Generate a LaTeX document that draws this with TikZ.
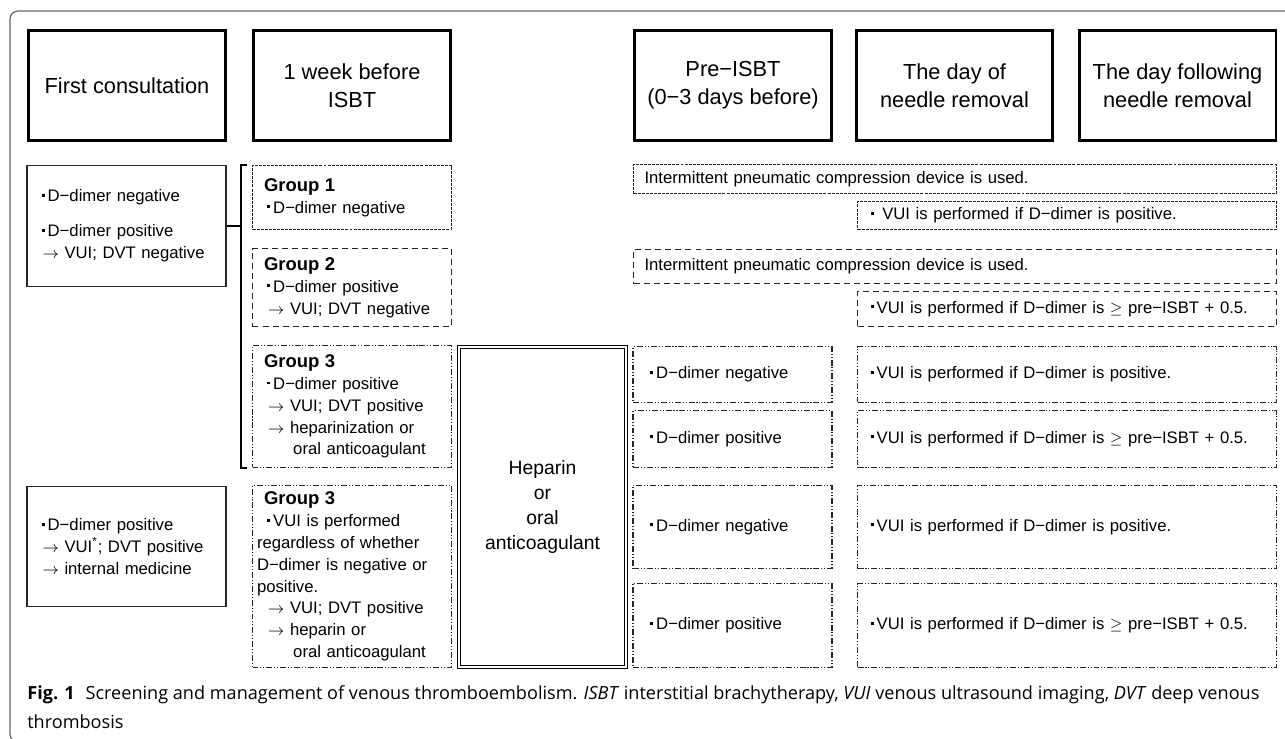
\documentclass[tikz,border=0pt]{standalone}
\usepackage{fontspec}
\setsansfont{Liberation Sans}
\newfontfamily\capfont{Open Sans}
\usepackage{tikz}
\usetikzlibrary{positioning}

\newcommand{\dotmark}{\makebox[0.55em]{\rule[0.3em]{0.17em}{0.17em}}}
\newcommand{\arrmark}{\hspace*{0.25em}$\rightarrow$\ }
\newcommand{\grouplabel}[1]{{\fontsize{10.5}{12.4}\selectfont\bfseries Group #1}}

\begin{document}
\begin{tikzpicture}[
    x=0.02cm, y=-0.02cm,
    font=\sffamily\fontsize{9.5}{12.4}\selectfont,
    head/.style={
        draw,
        line width=1.7pt,
        minimum width=3.94cm,
        minimum height=2.2cm,
        align=center,
        font=\sffamily\fontsize{12.4}{16}\selectfont
    }, box/.style={
        draw=black!85,
        line width=0.6pt,
        align=left,
        inner xsep=0pt, inner ysep=1pt
    }, fine/.style={
        box, dash pattern=on 1.7pt off 0.6pt
    }, coarse/.style={
        box, dash pattern=on 3.4pt off 2.3pt
    }, dashdotdot/.style={
        box, dash pattern=on 3.4pt off 1.1pt on 0.6pt off 1.1pt on 0.6pt off 1.1pt
    }, col/.style={
        minimum width=3.98cm, text width=3.52cm
    }, precol/.style={
        minimum width=3.98cm, text width=3.42cm
    }, postcol/.style={
        minimum width=8.38cm, text width=7.98cm
    }, widecol/.style={
        minimum width=12.86cm, text width=12.42cm
    }]
    \useasboundingbox (0,0) rectangle (1285,738);
    \draw[black!60, line width=0.7pt, rounded corners=0.16cm] (10,11) rectangle (1300,742);

    \node[head] (first) at (127,85.5) {First consultation};
    \node[head] (week) at (352,85.5) {1 week before\\ISBT};
    \node[head] (pre-isbt) at (733,85.5) {Pre−ISBT\\(0−3 days before)};
    \node[head] (removal) at (954.5,85.5) {The day of\\needle removal};
    \node[head] (following) at (1177.5,85.5) {The day following\\needle removal};


    \node[box, col, minimum height=2.42cm] (consult-a) at (126.5,226) {\dotmark D−dimer negative\\[7.5pt]\dotmark D−dimer positive\\\arrmark VUI; DVT negative};
    \node[box, col, minimum height=2.40cm] (consult-b) at (126.5,546.5) {\dotmark D−dimer positive\\\arrmark VUI\textsuperscript{*}; DVT positive\\\arrmark internal medicine};

    \coordinate (brace-top) at (241,165);
    \coordinate (brace-bot) at (241,468);
    \draw[line width=0.9pt] (brace-top) ++(6,0) -- (brace-top) -- (brace-bot) -- ++(6,0);
    \draw[line width=0.9pt] (consult-a) -- (consult-a -| brace-top);


    \node[fine, col, minimum height=1.28cm] (group1) at (352,197.5) {\grouplabel{1}\\\dotmark D−dimer negative};
    \node[coarse, col, minimum height=1.56cm] (group2) at (352,287.5) {\grouplabel{2}\\\dotmark D−dimer positive\\\arrmark VUI; DVT negative};
    \node[dashdotdot, col, minimum height=2.44cm] (group3a) at (352,406.5) {\grouplabel{3}\\\dotmark D−dimer positive\\\arrmark VUI; DVT positive\\\arrmark heparinization or\\\hspace*{1.75em}oral anticoagulant};
    \node[dashdotdot, col, minimum height=3.64cm] (group3b) at (352,576.5) {\grouplabel{3}\\\dotmark VUI is performed\\\hspace*{-0.42em}regardless of whether\\\hspace*{-0.42em}D−dimer is negative or\\\hspace*{-0.42em}positive.\\\arrmark VUI; DVT positive\\\arrmark heparin or\\\hspace*{1.75em}oral anticoagulant};

    \node[draw, double, line width=0.5pt, double distance=1.4pt, minimum width=3.34cm, minimum height=6.4cm, align=center, font=\sffamily\fontsize{11}{14.2}\selectfont] (heparin) at (542.5,507) {Heparin\\or\\oral\\anticoagulant};


    \node[fine, widecol, minimum height=0.58cm] (ipc1) at (955,179) {Intermittent pneumatic compression device is used.};
    \node[fine, postcol, minimum height=0.56cm] (vui1) at (1067,215.5) {\dotmark\ VUI is performed if D−dimer is positive.};
    \node[coarse, widecol, minimum height=0.68cm] (ipc2) at (955,266.5) {Intermittent pneumatic compression device is used.};
    \node[coarse, postcol, minimum height=0.70cm] (vui2) at (1067,309) {\dotmark VUI is performed if D−dimer is $\geq$ pre−ISBT + 0.5.};

    \node[dashdotdot, precol, minimum height=1.12cm] (pre3) at (732.5,374.5) {\dotmark D−dimer negative};
    \node[dashdotdot, postcol, minimum height=1.12cm] (post3) at (1067,374.5) {\dotmark VUI is performed if D−dimer is positive.};
    \node[dashdotdot, precol, minimum height=1.14cm] (pre4) at (732.5,439) {\dotmark D−dimer positive};
    \node[dashdotdot, postcol, minimum height=1.14cm] (post4) at (1067,439) {\dotmark VUI is performed if D−dimer is $\geq$ pre−ISBT + 0.5.};
    \node[dashdotdot, precol, minimum height=1.66cm] (pre5) at (732.5,527) {\dotmark D−dimer negative};
    \node[dashdotdot, postcol, minimum height=1.66cm] (post5) at (1067,527) {\dotmark VUI is performed if D−dimer is positive.};
    \node[dashdotdot, precol, minimum height=1.68cm] (pre6) at (732.5,625.5) {\dotmark D−dimer positive};
    \node[dashdotdot, postcol, minimum height=1.68cm] (post6) at (1067,625.5) {\dotmark VUI is performed if D−dimer is $\geq$ pre−ISBT + 0.5.};


    \node[anchor=north west, inner sep=0pt, align=left, font=\capfont\fontsize{10.3}{16.6}\selectfont] (caption) at (27,685) {\textbf{Fig. 1}\hspace{0.6em}Screening and management of venous thromboembolism. \textit{ISBT} interstitial brachytherapy, \textit{VUI} venous ultrasound imaging, \textit{DVT} deep venous\\thrombosis};

\end{tikzpicture}
\end{document}
